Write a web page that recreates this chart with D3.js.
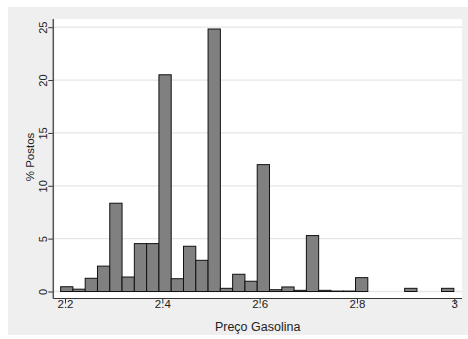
<!DOCTYPE html>
<html>
<head>
<meta charset="utf-8">
<script src="https://cdn.jsdelivr.net/npm/d3@7"></script>
<style>
  body { margin: 0; background: #fff; }
  svg { display: block; font-family: "Liberation Sans", Arial, sans-serif; }
</style>
</head>
<body>
<div id="chart"></div>
<script>
// histogram bins: start, width, % of postos in each bin
const binStart = 2.191
const binWidth = 0.02525
const pct = [0.45, 0.22, 1.25, 2.4, 8.35, 1.37, 4.53, 4.53, 20.5, 1.21,
             4.28, 2.95, 24.83, 0.3, 1.63, 0.97, 12.0, 0.17, 0.43, 0.11,
             5.29, 0.11, 0.04, 0.04, 1.31, 0, 0, 0, 0.3, 0, 0, 0.3]
const xTicks = [2.2, 2.4, 2.6, 2.8, 3]
const xTickLabels = ['2.2', '2.4', '2.6', '2.8', '3']
const yTicks = [0, 5, 10, 15, 20, 25]

const W = 468, H = 339

const svg = d3.select('#chart')
  .append('svg')
  .attr('width', W)
  .attr('height', H)

// graph region (grey) and plot region (white)
svg.append('rect')
  .attr('x', 8).attr('y', 7)
  .attr('width', W - 8).attr('height', 328)
  .attr('fill', '#efefef')

const plot = {left: 53.3, right: 462, top: 19, bottom: 298.5}

svg.append('rect')
  .attr('x', plot.left).attr('y', plot.top)
  .attr('width', plot.right - plot.left)
  .attr('height', plot.bottom - plot.top)
  .attr('fill', '#fff')

const x = d3.scaleLinear().domain([2.2, 3]).range([65, 454.3])
const y = d3.scaleLinear().domain([0, 25]).range([291.5, 27.2])

// gridlines
svg.append('g')
  .selectAll('line')
  .data(yTicks)
  .enter()
  .append('line')
  .attr('x1', plot.left).attr('x2', plot.right)
  .attr('y1', d => y(d)).attr('y2', d => y(d))
  .attr('stroke', '#e6e6e6')
  .attr('stroke-width', 1.3)

const bins = pct.map((v, i) => ({x0: binStart + i * binWidth, x1: binStart + (i + 1) * binWidth, v: v}))

svg.append('g')
  .selectAll('rect')
  .data(bins.filter(d => d.v > 0))
  .enter()
  .append('rect')
  .attr('x', d => x(d.x0))
  .attr('width', d => x(d.x1) - x(d.x0))
  .attr('y', d => y(d.v))
  .attr('height', d => y(0) - y(d.v))
  .attr('fill', '#808080')
  .attr('stroke', '#111')
  .attr('stroke-width', 1)

// axes
const xAxis = d3.axisBottom(x)
  .tickValues(xTicks)
  .tickFormat((d, i) => xTickLabels[i])
  .tickSize(5)
  .tickPadding(-3.5)

const gx = svg.append('g')
  .attr('transform', 'translate(0,' + plot.bottom + ')')
  .call(xAxis)
gx.select('.domain').remove()
gx.append('line')
  .attr('x1', plot.left).attr('x2', plot.right)
  .attr('stroke', '#333').attr('stroke-width', 1.2)
gx.selectAll('.tick line').attr('stroke', '#333')
gx.selectAll('.tick text')
  .attr('fill', '#222')
  .style('font-size', '11.5px')
  .style('font-family', '"Liberation Sans", Arial, sans-serif')

const yAxis = d3.axisLeft(y)
  .tickValues(yTicks)
  .tickSize(5)

const gy = svg.append('g')
  .attr('transform', 'translate(' + plot.left + ',0)')
  .call(yAxis)
gy.select('.domain').remove()
gy.append('line')
  .attr('y1', plot.top).attr('y2', plot.bottom)
  .attr('stroke', '#555').attr('stroke-width', 1.5)
gy.selectAll('.tick line').attr('stroke', '#333')
gy.selectAll('.tick text')
  .attr('x', null)
  .attr('dy', null)
  .attr('transform', 'translate(-6.5,0) rotate(-90)')
  .attr('text-anchor', 'middle')
  .attr('fill', '#222')
  .style('font-size', '11px')
  .style('font-family', '"Liberation Sans", Arial, sans-serif')

// axis titles
svg.append('text')
  .attr('transform', 'translate(34,157) rotate(-90)')
  .attr('text-anchor', 'middle')
  .style('font-size', '11.5px')
  .attr('fill', '#222')
  .text('% Postos')

svg.append('text')
  .attr('x', (plot.left + plot.right) / 2)
  .attr('y', 330.5)
  .attr('text-anchor', 'middle')
  .style('font-size', '12.5px')
  .attr('fill', '#222')
  .text('Preço Gasolina')
</script>
</body>
</html>
